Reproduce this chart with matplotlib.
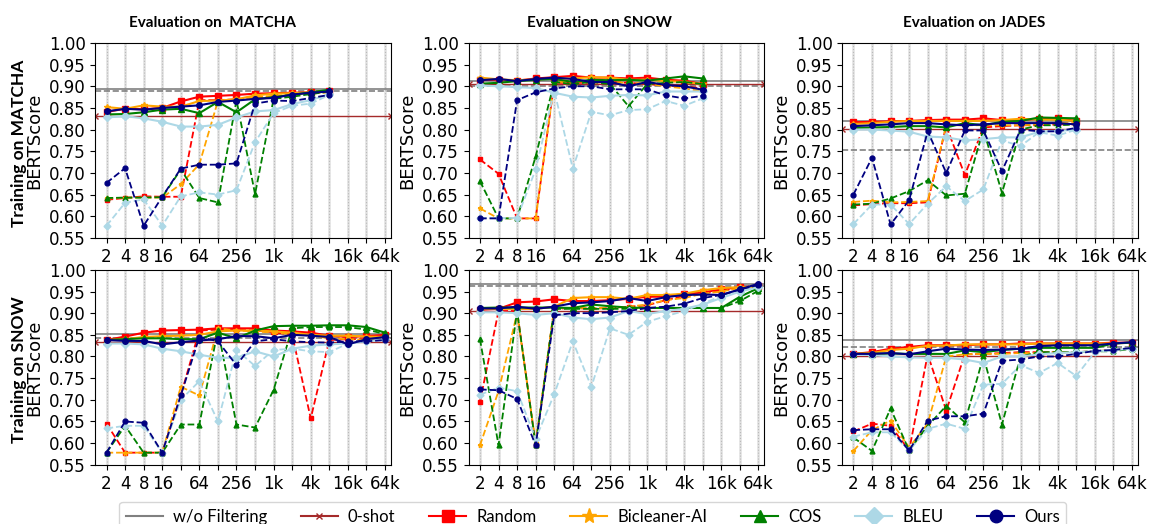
import matplotlib.pyplot as plt
from matplotlib.lines import Line2D
from matplotlib.ticker import FixedLocator, NullFormatter

# training-set sizes (x) and tick labels
sizes = [2, 4, 8, 16, 32, 64, 128, 256, 512, 1024, 2048, 4096, 8192, 16384, 32768, 65536]
size_labels = ['2', '4', '8', '16', '', '64', '', '256', '', '1k', '', '4k', '', '16k', '', '64k']
yticks = [0.55, 0.60, 0.65, 0.70, 0.75, 0.80, 0.85, 0.90, 0.95, 1.00]

methods = ['Random', 'Bicleaner-AI', 'COS', 'BLEU', 'Ours']
colors = ['red', 'orange', 'green', 'lightblue', 'navy']
markers = ['s', '*', '^', 'D', 'o']

# reference lines per panel (MM, MS, MJ, SM, SS, SJ)
wo_filter = [0.893, 0.9115, 0.821, 0.852, 0.967, 0.838]
wo_filter_dashed = [0.888, 0.900, 0.752, 0.843, 0.962, 0.822]
zero_shot = [0.832, 0.906, 0.8015, 0.833, 0.905, 0.8015]

# each method: [solid, dashed]
# train MATCHA / eval MATCHA
mm_random = [[0.841, 0.848, 0.847, 0.850, 0.865, 0.876, 0.878, 0.880, 0.883, 0.884, 0.885, 0.886, 0.890],
             [0.638, 0.642, 0.646, 0.645, 0.645, 0.868, 0.868, 0.870, 0.873, 0.876, 0.880, 0.884, 0.887]]
mm_bicleaner = [[0.852, 0.848, 0.856, 0.853, 0.853, 0.866, 0.867, 0.870, 0.879, 0.883, 0.884, 0.886, 0.889],
                [0.641, 0.643, 0.643, 0.643, 0.674, 0.720, 0.866, 0.868, 0.875, 0.878, 0.880, 0.883, 0.886]]
mm_cos = [[0.835, 0.836, 0.840, 0.846, 0.848, 0.838, 0.864, 0.840, 0.870, 0.875, 0.880, 0.886, 0.892],
          [0.642, 0.643, 0.643, 0.644, 0.708, 0.642, 0.632, 0.868, 0.651, 0.871, 0.876, 0.882, 0.888]]
mm_bleu = [[0.828, 0.831, 0.826, 0.818, 0.807, 0.807, 0.811, 0.828, 0.842, 0.845, 0.859, 0.868, 0.882],
           [0.578, 0.631, 0.639, 0.578, 0.646, 0.655, 0.650, 0.660, 0.771, 0.838, 0.855, 0.860, 0.880]]
mm_ours = [[0.842, 0.848, 0.846, 0.850, 0.853, 0.856, 0.864, 0.867, 0.871, 0.873, 0.881, 0.885, 0.888],
           [0.677, 0.711, 0.578, 0.645, 0.710, 0.719, 0.719, 0.722, 0.860, 0.867, 0.866, 0.873, 0.880]]

# train MATCHA / eval SNOW
ms_random = [[0.915, 0.915, 0.913, 0.918, 0.921, 0.924, 0.920, 0.920, 0.918, 0.920, 0.915, 0.913, 0.905],
             [0.731, 0.698, 0.595, 0.595, 0.908, 0.908, 0.908, 0.910, 0.908, 0.905, 0.902, 0.900, 0.895]]
ms_bicleaner = [[0.920, 0.916, 0.914, 0.916, 0.918, 0.918, 0.921, 0.920, 0.915, 0.915, 0.912, 0.910, 0.905],
                [0.618, 0.595, 0.595, 0.595, 0.910, 0.910, 0.912, 0.910, 0.908, 0.906, 0.900, 0.895, 0.888]]
ms_cos = [[0.906, 0.908, 0.912, 0.915, 0.917, 0.910, 0.915, 0.914, 0.915, 0.913, 0.918, 0.923, 0.918],
          [0.681, 0.595, 0.595, 0.738, 0.910, 0.905, 0.910, 0.905, 0.854, 0.905, 0.908, 0.910, 0.905]]
ms_bleu = [[0.902, 0.900, 0.898, 0.896, 0.885, 0.876, 0.874, 0.878, 0.880, 0.879, 0.888, 0.888, 0.888],
           [0.596, 0.596, 0.596, 0.708, 0.890, 0.710, 0.841, 0.833, 0.845, 0.847, 0.866, 0.855, 0.872]]
ms_ours = [[0.914, 0.917, 0.912, 0.917, 0.920, 0.917, 0.910, 0.910, 0.900, 0.910, 0.903, 0.900, 0.892],
           [0.595, 0.595, 0.868, 0.886, 0.895, 0.900, 0.900, 0.893, 0.893, 0.893, 0.879, 0.872, 0.878]]

# train MATCHA / eval JADES
mj_random = [[0.817, 0.818, 0.819, 0.820, 0.822, 0.823, 0.823, 0.826, 0.822, 0.822, 0.825, 0.826, 0.820],
             [0.625, 0.628, 0.630, 0.630, 0.632, 0.808, 0.695, 0.805, 0.808, 0.810, 0.810, 0.812, 0.812]]
mj_bicleaner = [[0.813, 0.815, 0.818, 0.820, 0.820, 0.820, 0.820, 0.820, 0.822, 0.825, 0.823, 0.823, 0.820],
                [0.633, 0.636, 0.632, 0.633, 0.635, 0.810, 0.810, 0.810, 0.810, 0.810, 0.812, 0.815, 0.815]]
mj_cos = [[0.804, 0.805, 0.806, 0.808, 0.808, 0.805, 0.815, 0.810, 0.818, 0.820, 0.828, 0.827, 0.826],
          [0.627, 0.629, 0.641, 0.658, 0.683, 0.648, 0.652, 0.800, 0.654, 0.800, 0.810, 0.810, 0.812]]
mj_bleu = [[0.800, 0.800, 0.798, 0.795, 0.784, 0.782, 0.775, 0.778, 0.782, 0.782, 0.795, 0.797, 0.800],
           [0.582, 0.627, 0.627, 0.582, 0.629, 0.669, 0.635, 0.662, 0.775, 0.762, 0.794, 0.786, 0.800]]
mj_ours = [[0.808, 0.810, 0.812, 0.815, 0.815, 0.812, 0.810, 0.812, 0.815, 0.815, 0.815, 0.815, 0.812],
           [0.650, 0.735, 0.581, 0.637, 0.796, 0.700, 0.798, 0.798, 0.704, 0.800, 0.796, 0.796, 0.804]]

# train SNOW / eval MATCHA
sm_random = [[0.838, 0.846, 0.855, 0.860, 0.861, 0.862, 0.865, 0.865, 0.865, 0.860, 0.858, 0.855, 0.848, 0.845, 0.847, 0.850],
             [0.645, 0.578, 0.578, 0.578, 0.710, 0.860, 0.862, 0.862, 0.860, 0.856, 0.850, 0.657, 0.838, 0.840, 0.840, 0.840]]
sm_bicleaner = [[0.838, 0.840, 0.845, 0.847, 0.848, 0.850, 0.858, 0.860, 0.860, 0.858, 0.855, 0.850, 0.848, 0.848, 0.846, 0.845],
                [0.578, 0.578, 0.578, 0.578, 0.730, 0.710, 0.865, 0.860, 0.858, 0.855, 0.852, 0.848, 0.842, 0.840, 0.838, 0.845]]
sm_cos = [[0.838, 0.840, 0.842, 0.842, 0.840, 0.840, 0.855, 0.842, 0.860, 0.870, 0.871, 0.871, 0.872, 0.872, 0.868, 0.855],
          [0.578, 0.640, 0.578, 0.578, 0.643, 0.643, 0.862, 0.643, 0.636, 0.723, 0.865, 0.868, 0.868, 0.868, 0.862, 0.852]]
sm_bleu = [[0.830, 0.830, 0.828, 0.818, 0.812, 0.804, 0.797, 0.797, 0.812, 0.800, 0.818, 0.825, 0.828, 0.830, 0.835, 0.840],
           [0.634, 0.640, 0.640, 0.578, 0.700, 0.743, 0.650, 0.815, 0.778, 0.815, 0.818, 0.812, 0.810, 0.830, 0.835, 0.840]]
sm_ours = [[0.838, 0.836, 0.836, 0.828, 0.833, 0.837, 0.840, 0.847, 0.847, 0.842, 0.850, 0.848, 0.845, 0.828, 0.840, 0.845],
           [0.578, 0.650, 0.647, 0.578, 0.710, 0.845, 0.835, 0.780, 0.835, 0.840, 0.835, 0.833, 0.832, 0.835, 0.835, 0.838]]

# train SNOW / eval SNOW
ss_random = [[0.908, 0.910, 0.925, 0.927, 0.932, 0.928, 0.928, 0.930, 0.933, 0.938, 0.938, 0.945, 0.948, 0.955, 0.960, 0.962],
             [0.695, 0.905, 0.905, 0.595, 0.910, 0.912, 0.910, 0.912, 0.915, 0.918, 0.930, 0.940, 0.945, 0.952, 0.958, 0.960]]
ss_bicleaner = [[0.910, 0.910, 0.910, 0.910, 0.915, 0.935, 0.937, 0.937, 0.933, 0.942, 0.942, 0.945, 0.953, 0.958, 0.960, 0.960],
                [0.595, 0.720, 0.900, 0.600, 0.912, 0.912, 0.912, 0.912, 0.915, 0.920, 0.930, 0.935, 0.945, 0.950, 0.958, 0.958]]
ss_cos = [[0.912, 0.913, 0.913, 0.913, 0.913, 0.912, 0.920, 0.916, 0.913, 0.912, 0.912, 0.912, 0.912, 0.912, 0.938, 0.958],
          [0.840, 0.595, 0.905, 0.595, 0.910, 0.910, 0.910, 0.910, 0.910, 0.912, 0.912, 0.912, 0.912, 0.912, 0.928, 0.952]]
ss_bleu = [[0.902, 0.902, 0.900, 0.896, 0.900, 0.890, 0.886, 0.890, 0.905, 0.898, 0.905, 0.910, 0.920, 0.935, 0.950, 0.960],
           [0.712, 0.728, 0.720, 0.610, 0.713, 0.835, 0.730, 0.865, 0.850, 0.880, 0.893, 0.905, 0.922, 0.940, 0.955, 0.960]]
ss_ours = [[0.911, 0.911, 0.915, 0.910, 0.915, 0.923, 0.925, 0.928, 0.935, 0.928, 0.937, 0.942, 0.943, 0.942, 0.955, 0.968],
           [0.724, 0.722, 0.702, 0.595, 0.895, 0.900, 0.900, 0.902, 0.905, 0.912, 0.915, 0.922, 0.935, 0.942, 0.955, 0.965]]

# train SNOW / eval JADES
sj_random = [[0.806, 0.810, 0.818, 0.822, 0.826, 0.826, 0.826, 0.828, 0.828, 0.830, 0.830, 0.830, 0.830, 0.830, 0.832, 0.832],
             [0.627, 0.645, 0.640, 0.583, 0.805, 0.675, 0.805, 0.806, 0.808, 0.810, 0.810, 0.810, 0.810, 0.812, 0.815, 0.818]]
sj_bicleaner = [[0.806, 0.808, 0.815, 0.818, 0.825, 0.825, 0.828, 0.828, 0.828, 0.828, 0.830, 0.830, 0.830, 0.830, 0.830, 0.832],
                [0.582, 0.630, 0.652, 0.590, 0.645, 0.800, 0.805, 0.806, 0.806, 0.808, 0.808, 0.810, 0.810, 0.812, 0.815, 0.818]]
sj_cos = [[0.806, 0.806, 0.807, 0.806, 0.806, 0.806, 0.814, 0.810, 0.815, 0.818, 0.820, 0.820, 0.820, 0.820, 0.830, 0.832],
          [0.613, 0.582, 0.680, 0.583, 0.640, 0.686, 0.648, 0.800, 0.643, 0.800, 0.810, 0.810, 0.810, 0.812, 0.812, 0.818]]
sj_bleu = [[0.805, 0.803, 0.800, 0.798, 0.797, 0.797, 0.793, 0.785, 0.800, 0.800, 0.805, 0.808, 0.810, 0.812, 0.815, 0.818],
           [0.615, 0.625, 0.625, 0.583, 0.633, 0.645, 0.633, 0.735, 0.737, 0.780, 0.762, 0.785, 0.755, 0.810, 0.815, 0.820]]
sj_ours = [[0.806, 0.806, 0.808, 0.805, 0.812, 0.818, 0.816, 0.815, 0.816, 0.818, 0.824, 0.826, 0.826, 0.826, 0.830, 0.833],
           [0.630, 0.632, 0.632, 0.583, 0.652, 0.662, 0.662, 0.668, 0.790, 0.793, 0.800, 0.800, 0.806, 0.813, 0.815, 0.820]]

panels = [
    [mm_random, mm_bicleaner, mm_cos, mm_bleu, mm_ours],
    [ms_random, ms_bicleaner, ms_cos, ms_bleu, ms_ours],
    [mj_random, mj_bicleaner, mj_cos, mj_bleu, mj_ours],
    [sm_random, sm_bicleaner, sm_cos, sm_bleu, sm_ours],
    [ss_random, ss_bicleaner, ss_cos, ss_bleu, ss_ours],
    [sj_random, sj_bicleaner, sj_cos, sj_bleu, sj_ours],
]

col_titles = ['Evaluation on  MATCHA', 'Evaluation on SNOW', 'Evaluation on JADES']
row_titles = ['Training on MATCHA', 'Training on SNOW']
label_font = ['Lato', 'DejaVu Sans']

fig, axes = plt.subplots(2, 3, figsize=(11.49, 5.24), dpi=100)
fig.subplots_adjust(left=0.083, right=0.990, bottom=0.113, top=0.918, wspace=0.265, hspace=0.164)

xlo, xhi = 2 ** 0.4, 2 ** 16.3

for k, ax in enumerate(axes.flat):
    ax.set_xscale('log', base=2)
    ax.set_xlim(xlo, xhi)
    ax.set_ylim(0.55, 1.0)

    ax.xaxis.set_major_locator(FixedLocator(sizes))
    ax.set_xticklabels(size_labels)
    # second grid layer at the same positions (light solid under dotted)
    ax.xaxis.remove_overlapping_locs = False
    ax.xaxis.set_minor_locator(FixedLocator(sizes))
    ax.xaxis.set_minor_formatter(NullFormatter())
    ax.tick_params(axis='x', which='minor', length=0)
    ax.set_yticks(yticks)
    ax.set_yticklabels(['%.2f' % v for v in yticks])
    ax.tick_params(labelsize=12)

    ax.grid(axis='x', which='minor', color='lightgray', lw=1.8, ls='-', alpha=0.7)
    ax.grid(axis='x', which='major', color='gray', lw=0.8, ls=':')
    ax.set_axisbelow(True)

    ax.axhline(wo_filter[k], color='gray', lw=1.2)
    ax.axhline(wo_filter_dashed[k], color='gray', lw=1.2, ls='--')
    ax.plot([xlo, xhi], [zero_shot[k], zero_shot[k]], color='brown', lw=1.0, marker='x', ms=4)

    for m, series in enumerate(panels[k]):
        solid, dashed = series
        n = len(solid)
        ax.plot(sizes[:n], dashed, color=colors[m], marker=markers[m], ms=3.5, lw=1.3, ls='--')
        ax.plot(sizes[:n], solid, color=colors[m], marker=markers[m], ms=4, lw=1.5)

    ax.set_ylabel('BERTScore', fontsize=13)

for x, t in zip([0.185, 0.522, 0.848], col_titles):
    fig.text(x, 0.956, t, ha='center', va='center', fontsize=11, fontweight='bold', family=label_font)

for y, t in zip([0.727, 0.294], row_titles):
    fig.text(0.0165, y, t, ha='center', va='center', rotation=90, fontsize=12.5,
             fontweight='bold', family=label_font)

handles = [
    Line2D([], [], color='gray', lw=1.5),
    Line2D([], [], color='brown', lw=1.5, marker='x', ms=5),
]
for m in range(len(methods)):
    ms = 11 if markers[m] == '*' else 9
    handles.append(Line2D([], [], color=colors[m], lw=1.5, marker=markers[m], ms=ms))
labels = ['w/o Filtering', '0-shot'] + methods

fig.legend(handles, labels, loc='upper center', bbox_to_anchor=(0.516, 0.042), borderaxespad=0,
           ncol=7, prop={'family': label_font, 'size': 12}, handlelength=2.2,
           columnspacing=2.05, handletextpad=0.6)

fig.savefig('out.png', dpi=100)
